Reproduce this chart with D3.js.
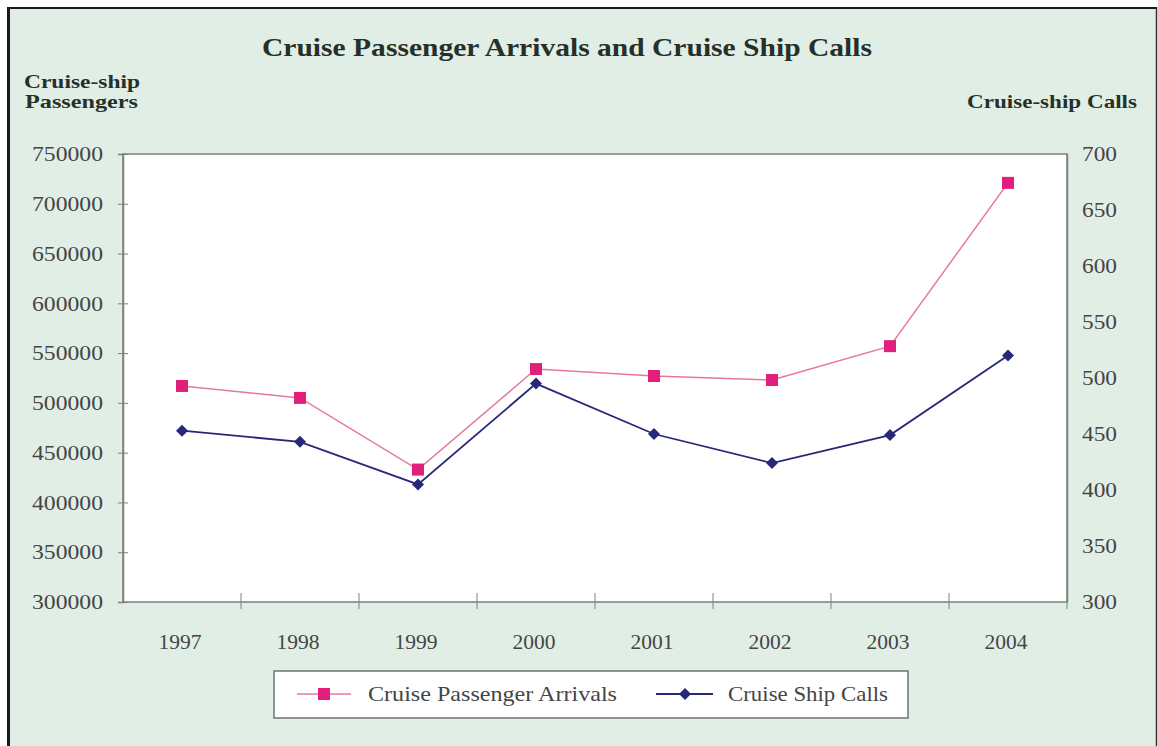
<!DOCTYPE html>
<html>
<head>
<meta charset="utf-8">
<script src="https://cdn.jsdelivr.net/npm/d3@7"></script>
<style>
  html, body { margin: 0; padding: 0; background: #ffffff; }
  svg { display: block; }
  text { font-family: "Liberation Serif", "DejaVu Serif", serif; }
</style>
</head>
<body>
<svg id="chart" width="1158" height="746"></svg>
<script>
// Yearly figures
const years = ["1997", "1998", "1999", "2000", "2001", "2002", "2003", "2004"];
const passengerArrivals = [517000, 505000, 433000, 534000, 527000, 523000, 557000, 721000];
const shipCalls = [453, 443, 405, 495, 450, 424, 449, 520];
const leftTicks = [300000, 350000, 400000, 450000, 500000, 550000, 600000, 650000, 700000, 750000];
const rightTicks = [300, 350, 400, 450, 500, 550, 600, 650, 700];

const pinkMarker = "#e0207a";
const pinkLine = "#e8789a";
const navy = "#28287a";
const labelColor = "#454545";
const headColor = "#263029";

const svg = d3.select("#chart");
const W = 1158, H = 746;
const plot = { left: 123, top: 154, right: 1067, bottom: 602 };

// Widened serif text: glyphs are stretched to a set width
function wideText(sel, width) {
  return sel.attr("textLength", width).attr("lengthAdjust", "spacingAndGlyphs");
}

// Square diamond marker (a square turned 45 degrees)
const squareDiamond = {
  draw(context, size) {
    const r = Math.sqrt(size / 2);
    context.moveTo(0, -r);
    context.lineTo(r, 0);
    context.lineTo(0, r);
    context.lineTo(-r, 0);
    context.closePath();
  }
};

// Panel background and frame
svg.append("rect").attr("x", 0).attr("y", 0).attr("width", W).attr("height", H).attr("fill", "#ffffff");
svg.append("rect").attr("x", 8).attr("y", 8).attr("width", 1149).attr("height", H).attr("fill", "#e1eee5");
svg.append("line").attr("x1", 8.5).attr("x2", 8.5).attr("y1", 7).attr("y2", H).attr("stroke", "#1a1a1a").attr("stroke-width", 3);
svg.append("line").attr("x1", 7).attr("x2", 1157).attr("y1", 8).attr("y2", 8).attr("stroke", "#1a1a1a").attr("stroke-width", 2);
svg.append("line").attr("x1", 1156.5).attr("x2", 1156.5).attr("y1", 7).attr("y2", H).attr("stroke", "#333").attr("stroke-width", 1.5);

// Scales
const x = d3.scaleBand().domain(years).range([plot.left, plot.right]).padding(0);
const yL = d3.scaleLinear().domain([300000, 750000]).range([plot.bottom, plot.top]);
const yR = d3.scaleLinear().domain([300, 700]).range([plot.bottom, plot.top]);

// Plot area
svg.append("rect")
  .attr("x", plot.left).attr("y", plot.top)
  .attr("width", plot.right - plot.left).attr("height", plot.bottom - plot.top)
  .attr("fill", "#ffffff").attr("stroke", "#7a827c").attr("stroke-width", 1.5);

// Left axis
const gL = svg.append("g").attr("transform", `translate(${plot.left},0)`)
  .call(d3.axisLeft(yL).tickValues(leftTicks).tickFormat(d3.format("d")).tickSize(5).tickPadding(15));
gL.select(".domain").attr("stroke", "#7a827c").attr("stroke-width", 1.5);
gL.selectAll(".tick line").attr("stroke", "#7a827c").attr("x2", 5).attr("x1", -5);
gL.selectAll(".tick text")
  .attr("fill", labelColor).attr("font-size", 21).attr("font-family", "Liberation Serif, serif")
  .attr("textLength", 71).attr("lengthAdjust", "spacingAndGlyphs");

// Right axis
const gR = svg.append("g").attr("transform", `translate(${plot.right},0)`)
  .call(d3.axisRight(yR).tickValues(rightTicks).tickSize(0).tickPadding(15));
gR.select(".domain").attr("stroke", "#7a827c").attr("stroke-width", 1.5);
gR.selectAll(".tick text")
  .attr("fill", labelColor).attr("font-size", 21).attr("font-family", "Liberation Serif, serif")
  .attr("textLength", 35).attr("lengthAdjust", "spacingAndGlyphs");

// Bottom axis: ticks sit on category boundaries
const boundaries = years.slice(1).map(y => x(y));
svg.append("g").selectAll("line").data(boundaries).join("line")
  .attr("x1", d => d).attr("x2", d => d)
  .attr("y1", plot.bottom - 9).attr("y2", plot.bottom + 7)
  .attr("stroke", "#7a827c").attr("stroke-width", 1);
svg.append("line").attr("x1", plot.right).attr("x2", plot.right)
  .attr("y1", plot.bottom).attr("y2", plot.bottom + 7).attr("stroke", "#7a827c");
svg.append("g").selectAll("text").data(years).join("text")
  .attr("x", d => x(d) + x.bandwidth() / 2 - 2)
  .attr("y", plot.bottom + 47)
  .attr("text-anchor", "middle")
  .attr("fill", labelColor).attr("font-size", 20)
  .attr("textLength", 43).attr("lengthAdjust", "spacingAndGlyphs")
  .text(d => d);

const cx = d => x(d) + x.bandwidth() / 2;

// Passenger arrivals line with square markers
const passData = years.map((yr, i) => ({ yr, v: passengerArrivals[i] }));
svg.append("path").datum(passData)
  .attr("fill", "none").attr("stroke", pinkLine).attr("stroke-width", 1.5)
  .attr("d", d3.line().x(d => cx(d.yr)).y(d => yL(d.v)));
svg.append("g").selectAll("rect").data(passData).join("rect")
  .attr("x", d => cx(d.yr) - 6).attr("y", d => yL(d.v) - 6)
  .attr("width", 12).attr("height", 12).attr("fill", pinkMarker);

// Ship calls line with diamond markers
const callData = years.map((yr, i) => ({ yr, v: shipCalls[i] }));
svg.append("path").datum(callData)
  .attr("fill", "none").attr("stroke", navy).attr("stroke-width", 1.8)
  .attr("d", d3.line().x(d => cx(d.yr)).y(d => yR(d.v)));
const diamond = d3.symbol().type(squareDiamond).size(72);
svg.append("g").selectAll("path").data(callData).join("path")
  .attr("transform", d => `translate(${cx(d.yr)},${yR(d.v)})`)
  .attr("d", diamond).attr("fill", navy);

// Titles
wideText(svg.append("text").attr("x", 262).attr("y", 56)
  .attr("font-size", 26).attr("font-weight", "bold").attr("fill", headColor)
  .text("Cruise Passenger Arrivals and Cruise Ship Calls"), 610);
wideText(svg.append("text").attr("x", 24).attr("y", 88)
  .attr("font-size", 19).attr("font-weight", "bold").attr("fill", headColor)
  .text("Cruise-ship"), 116);
wideText(svg.append("text").attr("x", 25).attr("y", 108)
  .attr("font-size", 19).attr("font-weight", "bold").attr("fill", headColor)
  .text("Passengers"), 113);
wideText(svg.append("text").attr("x", 967).attr("y", 108)
  .attr("font-size", 19).attr("font-weight", "bold").attr("fill", headColor)
  .text("Cruise-ship Calls"), 170);

// Legend
const lg = svg.append("g");
lg.append("rect").attr("x", 274).attr("y", 671).attr("width", 634).attr("height", 47)
  .attr("fill", "#ffffff").attr("stroke", "#6f7470").attr("stroke-width", 1.5);
lg.append("line").attr("x1", 297).attr("x2", 351).attr("y1", 694).attr("y2", 694)
  .attr("stroke", pinkLine).attr("stroke-width", 1.5);
lg.append("rect").attr("x", 318).attr("y", 688).attr("width", 12).attr("height", 12).attr("fill", pinkMarker);
wideText(lg.append("text").attr("x", 368).attr("y", 701).attr("font-size", 21).attr("fill", labelColor)
  .text("Cruise Passenger Arrivals"), 249);
lg.append("line").attr("x1", 656).attr("x2", 713).attr("y1", 694).attr("y2", 694)
  .attr("stroke", navy).attr("stroke-width", 1.8);
lg.append("path").attr("transform", "translate(685,694)").attr("d", diamond).attr("fill", navy);
wideText(lg.append("text").attr("x", 728).attr("y", 701).attr("font-size", 21).attr("fill", labelColor)
  .text("Cruise Ship Calls"), 160);
</script>
</body>
</html>
